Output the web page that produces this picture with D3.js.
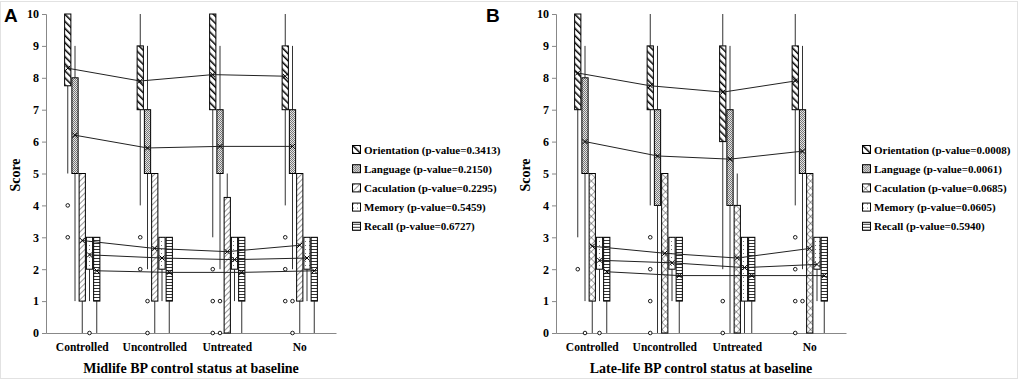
<!DOCTYPE html>
<html>
<head>
<meta charset="utf-8">
<script src="https://cdn.jsdelivr.net/npm/d3@7"></script>
<style>
  body { margin: 0; background: #fff; }
  text { font-family: "Liberation Serif", "Times New Roman", serif; font-weight: bold; fill: #000; }
</style>
</head>
<body>
<div id="chart"></div>
<script>
// categories
const groups = ["Controlled", "Uncontrolled", "Untreated", "No"];
const domains = ["Orientation", "Language", "Caculation", "Memory", "Recall"];
const yTicks = [0, 1, 2, 3, 4, 5, 6, 7, 8, 9, 10];

// p-values (legend)
const pMid = ["0.3413", "0.2150", "0.2295", "0.5459", "0.6727"];
const pLate = ["0.0008", "0.0061", "0.0685", "0.0605", "0.5940"];

// midlife panel: rows = groups, cols = domains
const midLow  = [[5, 1, 0, 1, 0], [4, 2, 0, 1, 0], [3, 2, 0, 1, 0], [4, 2, 0, 1, 0]];
const midQ1   = [[7.75, 5, 1, 2, 1], [7, 5, 1, 2, 1], [7, 5, 0, 2, 1], [7, 5, 1, 2, 1]];
const midQ3   = [[10, 8, 5, 3, 3], [9, 7, 5, 3, 3], [10, 7, 4.25, 3, 3], [9, 7, 5, 3, 3]];
const midHigh = [[10, 9, 5, 3, 3], [10, 9, 5, 3, 3], [10, 9, 5, 3, 3], [10, 9, 5, 3, 3]];
const midMean = [[8.3, 6.2, 2.9, 2.45, 1.95], [7.9, 5.8, 2.65, 2.35, 1.9], [8.1, 5.85, 2.55, 2.3, 1.9], [8.05, 5.85, 2.75, 2.35, 1.95]];
const midOut  = [[[4, 3], [], [], [0], []], [[3, 2], [1, 0], [], [], []], [[2, 1, 0], [1, 0], [], [], []], [[3, 2, 1], [1, 0], [], [], []]];

// late-life panel
const lateLow  = [[3, 1, 0, 1, 0], [4, 0, 0, 1, 0], [2, 0, 0, 0, 0], [4, 2, 0, 1, 0]];
const lateQ1   = [[7, 5, 1, 2, 1], [7, 4, 0, 2, 1], [6, 4, 0, 1, 1], [7, 5, 0, 2, 1]];
const lateQ3   = [[10, 8, 5, 3, 3], [9, 7, 5, 3, 3], [9, 7, 4, 3, 3], [9, 7, 5, 3, 3]];
const lateHigh = [[10, 9, 5, 3, 3], [10, 9, 5, 3, 3], [10, 9, 5, 3, 3], [10, 9, 5, 3, 3]];
const lateMean = [[8.15, 6.0, 2.72, 2.28, 1.92], [7.75, 5.55, 2.5, 2.2, 1.8], [7.55, 5.45, 2.35, 2.05, 1.8], [7.9, 5.7, 2.65, 2.15, 1.8]];
const lateOut  = [[[2], [0], [], [0], []], [[3, 2, 1, 0], [], [], [], []], [[1, 0], [], [], [], []], [[3, 2, 1, 0], [1], [], [], []]];

const W = 1021, H = 380;
const svg = d3.select("#chart").append("svg").attr("width", W).attr("height", H);

// light frame round the figure
svg.append("rect").attr("x", 0.5).attr("y", 1.5).attr("width", 1017).attr("height", 377)
  .attr("fill", "none").attr("stroke", "#e2e2e2").attr("stroke-width", 1);

// patterns
const defs = svg.append("defs");
function stripes(id, w, angle, sw, color) {
  const p = defs.append("pattern").attr("id", id).attr("patternUnits", "userSpaceOnUse")
    .attr("width", w).attr("height", w).attr("patternTransform", `rotate(${angle})`);
  p.append("rect").attr("width", w).attr("height", w).attr("fill", "#fff");
  p.append("line").attr("x1", 0).attr("y1", 0).attr("x2", 0).attr("y2", w)
    .attr("stroke", color).attr("stroke-width", sw);
  return p;
}
stripes("pOri", 5, -45, 3, "#000");
stripes("pCal", 4, 45, 1, "#333");
// crosshatch
const ch = stripes("pCross", 5, 45, 0.9, "#333");
ch.append("line").attr("x1", 0).attr("y1", 0).attr("x2", 5).attr("y2", 0).attr("stroke", "#333").attr("stroke-width", 0.9);
// language: checker
const pl = defs.append("pattern").attr("id", "pLan").attr("patternUnits", "userSpaceOnUse").attr("width", 2).attr("height", 2);
pl.append("rect").attr("width", 2).attr("height", 2).attr("fill", "#e4e4e4");
pl.append("rect").attr("width", 1).attr("height", 1).attr("fill", "#777");
pl.append("rect").attr("x", 1).attr("y", 1).attr("width", 1).attr("height", 1).attr("fill", "#777");
// memory: sparse dots
const pm = defs.append("pattern").attr("id", "pMem").attr("patternUnits", "userSpaceOnUse").attr("width", 4).attr("height", 4);
pm.append("rect").attr("width", 4).attr("height", 4).attr("fill", "#fff");
pm.append("rect").attr("x", 1).attr("y", 1).attr("width", 1).attr("height", 1).attr("fill", "#777");
// recall: horizontal lines
const pr = defs.append("pattern").attr("id", "pRec").attr("patternUnits", "userSpaceOnUse").attr("width", 4).attr("height", 3);
pr.append("rect").attr("width", 4).attr("height", 3).attr("fill", "#fff");
pr.append("line").attr("x1", 0).attr("x2", 4).attr("y1", 0.5).attr("y2", 0.5).attr("stroke", "#333").attr("stroke-width", 1);

function drawPanel(opt) {
  const { ox, letter, letterX, title, low, q1, q3, high, mean, out, pvals, calFill } = opt;
  const g = svg.append("g").attr("transform", `translate(${ox},0)`);
  const fills = ["url(#pOri)", "url(#pLan)", calFill, "url(#pMem)", "url(#pRec)"];

  const y = d3.scaleLinear().domain([0, 10]).range([333, 14]);
  const x = d3.scaleBand().domain(groups).range([46, 336]).paddingInner(0.5).paddingOuter(0.25);
  const xi = d3.scaleBand().domain(domains).range([0, x.bandwidth()]);

  svg.append("text").attr("x", letterX).attr("y", 22).style("font-family", "Liberation Sans, Arial, sans-serif")
    .style("font-size", "19px").text(letter);

  // y axis
  const ya = g.append("g").attr("transform", "translate(46,0)")
    .call(d3.axisLeft(y).tickValues(yTicks).tickSize(4).tickPadding(3));
  ya.select(".domain").attr("stroke", "#888");
  ya.selectAll(".tick line").attr("stroke", "#888");
  ya.selectAll(".tick text").style("font-family", "Liberation Serif, serif").style("font-weight", "bold").style("font-size", "12px");

  // x axis
  const xa = g.append("g").attr("transform", "translate(0,333)")
    .call(d3.axisBottom(x).tickSize(0).tickPadding(10));
  xa.select(".domain").attr("stroke", "#888");
  xa.selectAll(".tick text").style("font-family", "Liberation Serif, serif").style("font-weight", "bold").style("font-size", "11.5px");

  g.append("text").attr("transform", "translate(20,175) rotate(-90)").attr("text-anchor", "middle")
    .style("font-size", "14px").text("Score");
  g.append("text").attr("x", 191).attr("y", 373).attr("text-anchor", "middle")
    .style("font-size", "14px").text(title);

  const cx = (gi, di) => x(groups[gi]) + xi(domains[di]) + xi.bandwidth() / 2;

  // boxes + whiskers
  groups.forEach((grp, gi) => {
    domains.forEach((dom, di) => {
      const c = cx(gi, di);
      const bx = x(grp) + xi(dom);
      g.append("line").attr("x1", c).attr("x2", c).attr("y1", y(q3[gi][di])).attr("y2", y(high[gi][di]))
        .attr("stroke", "#333").attr("stroke-width", 1);
      g.append("line").attr("x1", c).attr("x2", c).attr("y1", y(q1[gi][di])).attr("y2", y(low[gi][di]))
        .attr("stroke", "#333").attr("stroke-width", 1);
      g.append("rect").attr("x", bx + 0.5).attr("y", y(q3[gi][di]))
        .attr("width", xi.bandwidth() - 1).attr("height", y(q1[gi][di]) - y(q3[gi][di]))
        .attr("fill", fills[di]).attr("stroke", "#000").attr("stroke-width", 1);
      out[gi][di].forEach(v => {
        g.append("circle").attr("cx", c).attr("cy", y(v)).attr("r", 1.8)
          .attr("fill", "#fff").attr("stroke", "#000").attr("stroke-width", 0.9);
      });
    });
  });

  // mean lines + markers
  domains.forEach((dom, di) => {
    const pts = groups.map((grp, gi) => [cx(gi, di), y(mean[gi][di])]);
    g.append("path").attr("d", d3.line()(pts)).attr("fill", "none").attr("stroke", "#222").attr("stroke-width", 1);
    pts.forEach(([px, py]) => {
      g.append("path").attr("d", `M${px - 2.5},${py - 2.5}L${px + 2.5},${py + 2.5}M${px - 2.5},${py + 2.5}L${px + 2.5},${py - 2.5}`)
        .attr("stroke", "#000").attr("stroke-width", 1);
    });
  });

  // legend
  const lg = g.append("g").attr("transform", "translate(352,153)");
  domains.forEach((dom, di) => {
    const row = lg.append("g").attr("transform", `translate(0,${di * 19.2})`);
    row.append("rect").attr("x", 0.5).attr("y", -7.5).attr("width", 8).attr("height", 8)
      .attr("fill", fills[di]).attr("stroke", "#000").attr("stroke-width", 1);
    row.append("text").attr("x", 12).attr("y", 0.5).style("font-size", "11px")
      .text(`${dom} (p-value=${pvals[di]})`);
  });
}

drawPanel({ ox: 0, letter: "A", letterX: 4, title: "Midlife BP control status at baseline",
  low: midLow, q1: midQ1, q3: midQ3, high: midHigh, mean: midMean, out: midOut, pvals: pMid, calFill: "url(#pCal)" });
drawPanel({ ox: 510, letter: "B", letterX: 486, title: "Late-life BP control status at baseline",
  low: lateLow, q1: lateQ1, q3: lateQ3, high: lateHigh, mean: lateMean, out: lateOut, pvals: pLate, calFill: "url(#pCross)" });
</script>
</body>
</html>
